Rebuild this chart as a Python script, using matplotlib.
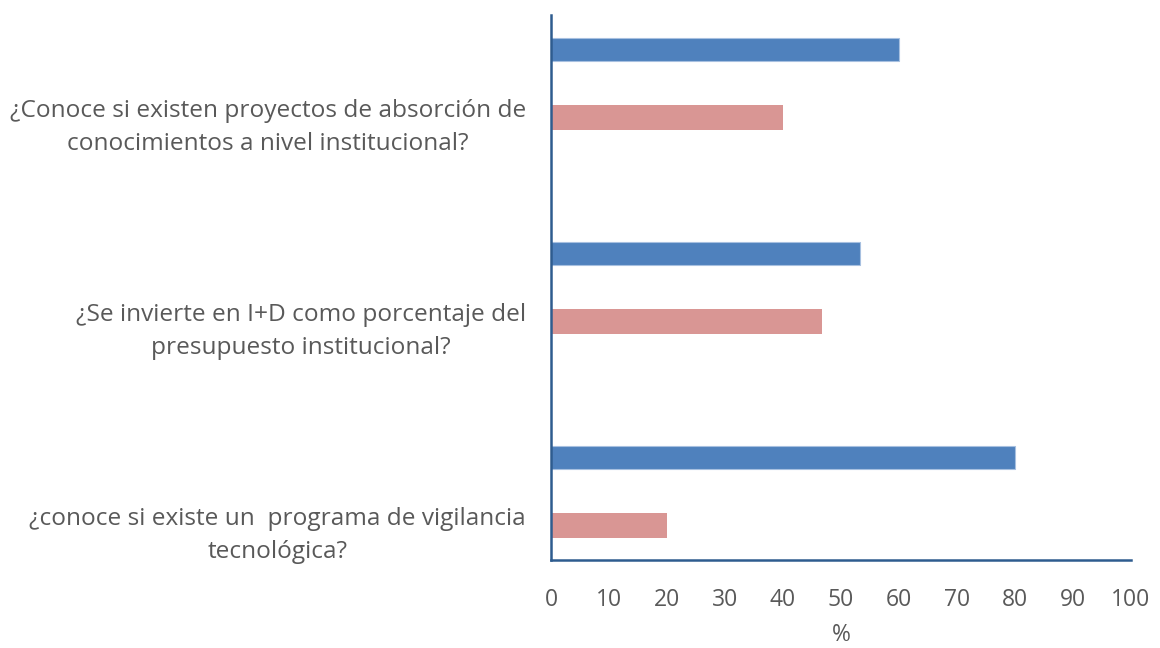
import numpy as np
import matplotlib.pyplot as plt

plt.rcParams['font.family'] = ['Open Sans', 'DejaVu Sans']

preguntas = [
    '¿Conoce si existen proyectos de absorción de\nconocimientos a nivel institucional?',
    '¿Se invierte en I+D como porcentaje del\npresupuesto institucional?',
    '¿conoce si existe un  programa de vigilancia\ntecnológica?',
]
si = [60, 53.3, 80]
no = [40, 46.7, 20]
xticks = [0, 10, 20, 30, 40, 50, 60, 70, 80, 90, 100]

gris = '#595959'
azul = '#4F81BD'
rosa = '#D99694'
eje = '#2E5C8F'

fig = plt.figure(figsize=(11.6, 6.48), dpi=100)
ax = fig.add_axes([0.475, 0.136, 0.5, 0.841])

y = np.arange(len(preguntas))
ax.barh(y - 0.167, si, height=0.115, color=azul, edgecolor='#A7C0E0', linewidth=0.8)
ax.barh(y + 0.167, no, height=0.122, color=rosa, linewidth=0)

ax.set_xlim(0, 100)
ax.set_ylim(2.336, -0.336)
ax.set_xticks(xticks)
ax.set_xticklabels([str(t) for t in xticks], fontsize=16.5, color=gris)
ax.set_yticks(y + 0.18)
ax.set_yticklabels(preguntas, fontsize=17.6, color=gris, multialignment='center',
                   linespacing=1.5)
ax.tick_params(axis='x', length=0, pad=20)
ax.tick_params(axis='y', length=0, pad=18)
ax.set_xlabel('%', fontsize=16.5, color=gris, labelpad=8)

for s in ['top', 'right']:
    ax.spines[s].set_visible(False)
for s in ['left', 'bottom']:
    ax.spines[s].set_color(eje)
    ax.spines[s].set_linewidth(1.8)

fig.savefig('out.png', dpi=100)
